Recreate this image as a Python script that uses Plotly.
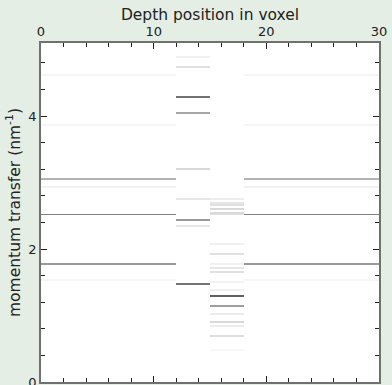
import numpy as np
import plotly.graph_objects as go

# Depth segments (voxel edges) and the scattering lines seen in each one
x_edges = [0, 12, 15, 18, 30]

# (momentum transfer q in nm^-1, relative intensity)
outer_lines_q = [4.62, 3.87, 3.07, 2.94, 2.51, 1.77, 1.52]
outer_lines_i = [0.04, 0.04, 0.30, 0.05, 0.50, 0.40, 0.04]

mid1_lines_q = [4.89, 4.73, 4.30, 4.04, 3.20, 2.75, 2.44, 2.33, 1.47]
mid1_lines_i = [0.06, 0.12, 0.55, 0.35, 0.15, 0.10, 0.40, 0.10, 0.55]

mid2_lines_q = [2.75, 2.70, 2.66, 2.60, 2.55, 2.51, 2.06, 1.92, 1.78, 1.71,
                1.64, 1.49, 1.38, 1.28, 1.15, 1.01, 0.90, 0.84, 0.70, 0.48]
mid2_lines_i = [0.07, 0.10, 0.12, 0.15, 0.15, 0.12, 0.06, 0.12, 0.06, 0.10,
                0.12, 0.05, 0.06, 0.62, 0.38, 0.08, 0.15, 0.08, 0.13, 0.03]

q_step = 0.03
q_max = 5.1
q_centers = np.arange(0, q_max + q_step / 2, q_step)


def column(qs, vals):
    col = np.zeros(len(q_centers))
    for q, v in zip(qs, vals):
        col[int(round(q / q_step))] = v
    return col


outer = column(outer_lines_q, outer_lines_i)
z = np.column_stack([
    outer,
    column(mid1_lines_q, mid1_lines_i),
    column(mid2_lines_q, mid2_lines_i),
    outer,
])

fig = go.Figure(go.Heatmap(
    x=x_edges,
    y=q_centers,
    z=z,
    zmin=0,
    zmax=1,
    colorscale=[[0, "#ffffff"], [1, "#000000"]],
    showscale=False,
    zsmooth=False,
    hoverinfo="skip",
))

axis_common = dict(
    showline=True,
    linecolor="#707070",
    linewidth=1.5,
    mirror="allticks",
    ticks="inside",
    tickcolor="#222222",
    tickwidth=1,
    ticklen=6,
    showgrid=False,
    zeroline=False,
    automargin=False,
    ticklabeloverflow="allow",
    tickfont=dict(family="DejaVu Sans", size=13, color="#222222"),
)

title_font = dict(family="DejaVu Sans", size=15.5, color="#222222")

fig.update_xaxes(
    range=[0, 30],
    side="top",
    tickvals=[0, 10, 20, 30],
    ticklabelstandoff=0,
    minor=dict(dtick=2, ticks="inside", ticklen=4, tickcolor="#222222", showgrid=False),
    title=dict(text="Depth position in voxel", font=title_font, standoff=0),
    **axis_common,
)
fig.update_yaxes(
    range=[0, q_max],
    tickvals=[0, 2, 4],
    minor=dict(dtick=0.4, ticks="inside", ticklen=4, tickcolor="#222222", showgrid=False),
    title=dict(text="momentum transfer (nm<sup>-1</sup>)", font=title_font, standoff=4),
    **axis_common,
)

fig.update_layout(
    width=392,
    height=385,
    margin=dict(l=41, r=13, t=43, b=3),
    paper_bgcolor="#e4eee4",
    plot_bgcolor="#ffffff",
)

fig.write_html("out.html")
